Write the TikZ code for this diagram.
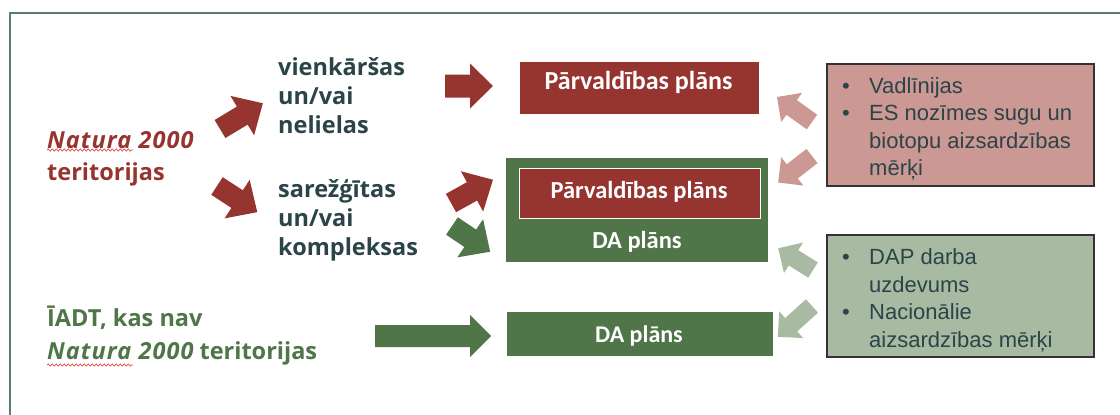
\documentclass[tikz,border=0pt]{standalone}
\usepackage{fontspec}
\usetikzlibrary{decorations.pathmorphing}
\newfontfamily\headfont{Open Sans}
\newfontfamily\boxfont{Carlito}
\newfontfamily\arialfont{Liberation Sans}
\definecolor{dred}{HTML}{963430}
\definecolor{dgreen}{HTML}{4F7548}
\definecolor{pinkc}{HTML}{CC9893}
\definecolor{lgreen}{HTML}{A8BBA2}
\definecolor{slate}{HTML}{2A4448}
\definecolor{framec}{HTML}{5C7B7C}
\definecolor{spell}{HTML}{E04848}
% block arrow: colour, tail centre, angle, length, shaft half width, head half width, head length
\newcommand\blockarrow[7]{%
  \fill[#1, shift={(#2)}, rotate=#3] (0,-#5) -- (#4-#7,-#5) -- (#4-#7,-#6) -- (#4,0)
    -- (#4-#7,#6) -- (#4-#7,#5) -- (0,#5) -- cycle;}
\newcommand\bul{\makebox[27pt][l]{•}}
\newcommand\ind{\hspace*{27pt}}
\newcommand\nat{{\itshape\addfontfeature{LetterSpace=4.5}Natura 2000}}
\begin{document}
\begin{tikzpicture}[x=1pt,y=-1pt,
  lefttext/.style={font=\headfont\bfseries\fontsize{23.5}{29.3}\selectfont, align=left, anchor=north west, inner sep=0pt},
  plainbox/.style={rectangle, inner sep=0pt, draw=none},
  boxtext/.style={font=\boxfont\bfseries\fontsize{#1}{#1}\selectfont, text=white, anchor=base, inner sep=0pt},
  bullettext/.style={font=\arialfont\fontsize{22}{27.5}\selectfont, text=slate, align=left, anchor=north west, inner sep=0pt},
  spellline/.style={spell, line width=0.7pt, decorate, decoration={snake, amplitude=1.1pt, segment length=4pt}}]
\useasboundingbox (0,0) rectangle (1120,415);
\fill[white] (0,0) rectangle (1120,415);
% frame
\draw[framec, line width=1.8pt] (1120,13) -- (10,13) -- (10,415);

% left texts
\node[lefttext, text=dred, font=\headfont\bfseries\fontsize{23.5}{32.5}\selectfont] (natura) at (47,131) {\nat\\teritorijas};
\draw[spellline] (47,150) -- (133,150);
\node[lefttext, text=slate] (simple) at (278,57) {vienkāršas\\un/vai\\nelielas};
\node[lefttext, text=slate] (complex) at (278,179) {sarežģītas\\un/vai\\kompleksas};
\node[lefttext, text=dgreen, font=\headfont\bfseries\fontsize{23.5}{32.5}\selectfont] (iadt) at (47,306) {ĪADT, kas nav\\\nat{} teritorijas};
\draw[spellline] (47,365) -- (133,365);

% boxes
\node[plainbox, fill=dred, minimum width=239pt, minimum height=52pt] (pp1) at (639.5,88) {};
\node[boxtext=26] (pp1t) at (638.5,89) {Pārvaldības plāns};
\node[plainbox, fill=dgreen, minimum width=262pt, minimum height=104pt] (dabig) at (637,210) {};
\node[plainbox, fill=dred, draw=white, line width=1pt, minimum width=241pt, minimum height=50pt] (pp2) at (639.5,193) {};
\node[boxtext=24.5] (pp2t) at (639,198) {Pārvaldības plāns};
\node[boxtext=24.5] (dabigt) at (637,248) {DA plāns};
\node[plainbox, fill=dgreen, minimum width=266pt, minimum height=44pt] (da2) at (640,334) {};
\node[boxtext=24] (da2t) at (639,342.5) {DA plāns};

\node[plainbox, fill=pinkc, draw=black!80, line width=1.2pt, minimum width=267pt, minimum height=122pt] (pinkbox) at (960.5,125) {};
\node[bullettext] (pinktext) at (842,77) {\bul Vadlīnijas\\\bul ES nozīmes sugu un\\\ind biotopu aizsardzības\\\ind mērķi};
\node[plainbox, fill=lgreen, draw=black!80, line width=1.2pt, minimum width=267pt, minimum height=122pt] (greenbox) at (960.5,296) {};
\node[bullettext] (greentext) at (842,248.5) {\bul DAP darba\\\ind uzdevums\\\bul Nacionālie\\\ind aizsardzības mērķi};

% block arrows
\blockarrow{dred}{220,129}{31}{50}{10.5}{23}{24}
\blockarrow{dred}{217,186}{-33}{48}{10.5}{23}{24}
\blockarrow{dred}{445,86}{0}{48}{11.5}{22.5}{23}
\blockarrow{dred}{451,203}{29}{48}{10.5}{23}{24}
\blockarrow{dgreen}{452,226}{-34}{46}{10.5}{23}{24}
\blockarrow{dgreen}{375,336}{0}{116}{11}{21}{21}
\blockarrow{pinkc}{812,122}{144.5}{43}{9}{18}{18}
\blockarrow{pinkc}{812,156}{-142}{43}{9}{18}{18}
\blockarrow{lgreen}{813,270}{148}{41}{9}{18}{18}
\blockarrow{lgreen}{812,306}{-138}{46}{9}{18}{18}
\end{tikzpicture}
\end{document}
